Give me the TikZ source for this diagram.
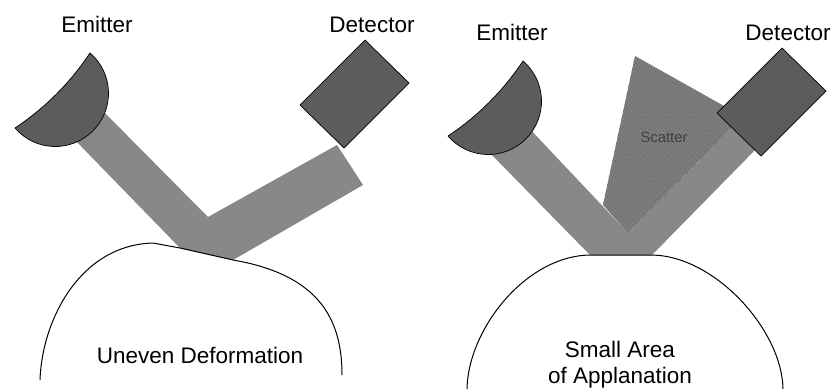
\documentclass[tikz,border=0pt]{standalone}
\usepackage{fontspec}
\setmainfont{Liberation Sans}

\definecolor{beamgray}{RGB}{136,136,136}
\definecolor{devgray}{RGB}{92,92,92}
\definecolor{scattergray}{RGB}{130,130,130}
\definecolor{stripegray}{RGB}{108,108,108}

\begin{document}
\begin{tikzpicture}[x=1pt, y=-1pt,
  beam/.style = {fill=beamgray},
  device/.style = {fill=devgray, draw=black, line width=0.7pt, line join=round},
  cornea/.style = {draw=black, line width=1pt},
  txt/.style = {inner sep=0pt, anchor=base, font=\fontsize{22.5}{27}\selectfont}]

\useasboundingbox (0,0) rectangle (833,389);

% light paths
\fill[beam] (72,137) -- (101,109) -- (208,217) -- (337,145) -- (363,185) -- (233,260) -- (180,248) -- cycle;
\fill[beam] (486,149) -- (527,126) -- (628,233) -- (740,119) -- (760,145) -- (652,255) -- (590,255) -- cycle;

% scatter wedge
\begin{scope}
\clip (603,205) -- (635,56) -- (740,115) -- (736,123) -- (628,233) -- cycle;
\fill[scattergray] (590,40) rectangle (760,240);
\foreach \s in {0,3,...,300}
  \draw[stripegray, line width=0.8pt] (\s+480,240) -- (\s+600,32);
\end{scope}

% emitters and detectors
\foreach \ex/\ey in {90/53, 523/61}
  \draw[device, shift={(\ex,\ey)}] (0,0) .. controls (23.5,20.2) and (24.8,56) .. (2.9,77.9)
    .. controls (-19,99.8) and (-54.8,98.5) .. (-75,75)
    .. controls (-45,55) and (-20,30) .. cycle;
\foreach \dx/\dy in {365/40, 782/48}
  \draw[device, shift={(\dx,\dy)}] (0,0) -- (44,43) -- (-21,108) -- (-65,65) -- cycle;

% corneas
\draw[cornea] (40,380) .. controls (42,320) and (80,245) .. (153,243) -- (180,248) -- (233,260)
  .. controls (320,275) and (342,320) .. (342,375);
\draw[cornea] (467,389) .. controls (468,330) and (525,256) .. (590,255) -- (652,255)
  .. controls (715,256) and (782,330) .. (783,389);

\node[txt] (emit_a) at (97,32) {Emitter};
\node[txt] (det_a) at (372,32) {Detector};
\node[txt] (uneven) at (200,363) {Uneven Deformation};

\node[txt] (emit_b) at (512,40) {Emitter};
\node[txt] (det_b) at (788,40) {Detector};
\node[txt] (small) at (620,357) {Small Area};
\node[txt] (appl) at (620,383) {of Applanation};
\node[txt, font=\fontsize{14.8}{18}\selectfont, text=black!75] (scatter) at (664,142) {Scatter};

\end{tikzpicture}
\end{document}
